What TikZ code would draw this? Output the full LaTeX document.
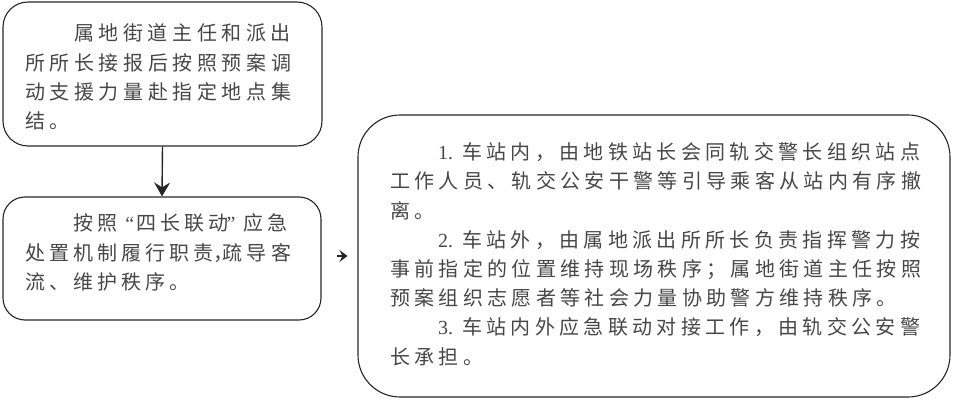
\documentclass[tikz,border=0pt]{standalone}
\usepackage{fontspec}
\setmainfont{Noto Sans CJK SC}
\newfontfamily\cjkA[LetterSpace=23]{Noto Sans CJK SC}
\newfontfamily\cjkC[LetterSpace=20.5]{Noto Sans CJK SC}
\newfontfamily\cjkB[LetterSpace=21.7]{Noto Sans CJK SC}
\newfontfamily\latinserif{Liberation Serif}
\usetikzlibrary{arrows.meta}
\tikzset{
  box/.style={draw=black!85, line width=1.1pt, inner sep=0pt},
  txtA/.style={inner sep=0pt, anchor=north west, align=left, text=black!72,
    font=\cjkA\fontsize{20}{29.3}\selectfont},
  txtC/.style={inner sep=0pt, anchor=north west, align=left, text=black!72,
    font=\cjkC\fontsize{20}{29.3}\selectfont},
  txtB/.style={inner sep=0pt, anchor=north west, align=left, text=black!72,
    font=\cjkB\fontsize{20}{29.2}\selectfont},
  link/.style={draw=black!85, line width=1.4pt}
}
\begin{document}
\begin{tikzpicture}[x=1pt,y=-1pt]
\useasboundingbox (0,0) rectangle (954,401);
% boxes
\node[box, rounded corners=25pt, minimum width=319pt, minimum height=144pt] (b1) at (162.5,74) {};
\node[box, rounded corners=22pt, minimum width=318pt, minimum height=123pt] (b2) at (162,258.5) {};
\node[box, rounded corners=42pt, minimum width=592pt, minimum height=282pt] (b3) at (654,256) {};
% texts
\node[txtA] (t1) at (25,20.1) {\strut\hspace*{49pt}属地街道主任和派出\\所所长接报后按照预案调\\动支援力量赴指定地点集\\结。};
\node[txtC] (t2) at (25,210.1) {\strut\hspace*{48pt}按照\makebox[17pt][r]{\latinserif “}\hspace{2pt}四长联动\hspace{-2pt}\makebox[17pt][l]{\latinserif ”}应急\\处置机制履行职责\makebox[9pt][l]{，}疏导客\\流、维护秩序。};
\node[txtB] (t3) at (390,139.1) {\strut\hspace*{48pt}\makebox[24pt][l]{\latinserif 1.}车站内，由地铁站长会同轨交警长组织站点\\工作人员、轨交公安干警等引导乘客从站内有序撤\\离。\\\hspace*{48pt}\makebox[24pt][l]{\latinserif 2.}车站外，由属地派出所所长负责指挥警力按\\事前指定的位置维持现场秩序；属地街道主任按照\\预案组织志愿者等社会力量协助警方维持秩序。\\\hspace*{48pt}\makebox[24pt][l]{\latinserif 3.}车站内外应急联动对接工作，由轨交公安警\\长承担。};
% connectors
\draw[link, -{Stealth[length=14pt,width=16pt,inset=5pt]}] (b1.south) -- (b2.north);
\draw[link, line width=1.2pt, -{Stealth[length=8pt,width=12pt,inset=3pt]}, shorten <=15pt, shorten >=10pt] (b2.east |- b3.west) -- (b3.west);
\end{tikzpicture}
\end{document}
